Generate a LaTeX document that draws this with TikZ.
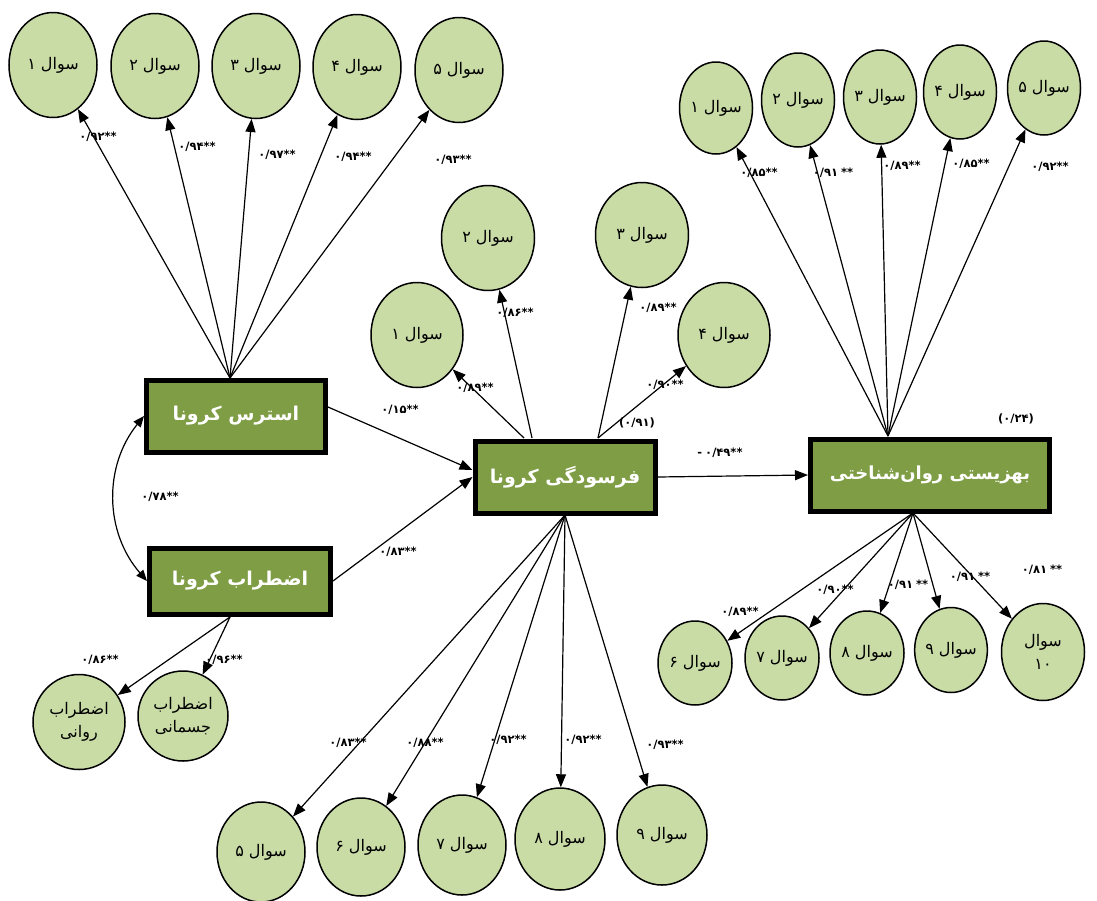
\documentclass[tikz,border=0pt]{standalone}
\usepackage{fontspec}
\usetikzlibrary{shapes.geometric,arrows.meta}
\newfontfamily\arabicfont[Script=Arabic]{DejaVu Sans}
\newfontfamily\numfont{DejaVu Sans}
\TeXXeTstate=1
\definecolor{itemgreen}{HTML}{C9DCA6}
\definecolor{boxgreen}{HTML}{7E9D45}
\begin{document}
\begin{tikzpicture}[x=1pt,y=-1pt,
  item/.style={ellipse, draw, line width=1.5pt, fill=itemgreen, inner sep=0pt, align=center, font=\arabicfont\fontsize{16}{23}\selectfont},
  itembig/.style={item, minimum width=88, minimum height=105},
  itemsmall/.style={item, minimum width=73, minimum height=92},
  itemlow/.style={item, minimum width=74, minimum height=84},
  latent/.style={draw, line width=5pt, fill=boxgreen, text=white, inner sep=0pt, font=\arabicfont\bfseries\fontsize{19}{22}\selectfont},
  load/.style={inner sep=0pt, font=\numfont\bfseries\fontsize{11.5}{13}\selectfont},
  arr/.style={-{Triangle[length=13pt,width=10pt]}, line width=1.2pt},
  arrboth/.style={{Triangle[length=11pt,width=9pt]}-{Triangle[length=11pt,width=9pt]}, line width=1.2pt}]
\useasboundingbox (0,0) rectangle (1097,900);
% latent variables
\node[latent, minimum width=179, minimum height=72] (st) at (236,416) {\beginR استرس کرونا\endR};
\node[latent, minimum width=181, minimum height=66] (ax) at (240,581) {\beginR اضطراب کرونا\endR};
\node[latent, minimum width=180, minimum height=72] (fb) at (565,477) {\beginR فرسودگی کرونا\endR};
\node[latent, minimum width=239, minimum height=72, font=\arabicfont\bfseries\fontsize{18}{22}\selectfont] (wb) at (930,475) {\beginR بهزیستی روان‌شناختی\endR};
% stress items
\node[itembig] (st1) at (53,65) {\beginR سوال ۱\endR};
\node[itembig] (st2) at (155,66) {\beginR سوال ۲\endR};
\node[itembig] (st3) at (256,66) {\beginR سوال ۳\endR};
\node[itembig] (st4) at (357,67) {\beginR سوال ۴\endR};
\node[itembig] (st5) at (459,70) {\beginR سوال ۵\endR};
\coordinate (st0) at (230,378);
\draw[arr](st0) -- (st1);
\draw[arr](st0) -- (st2);
\draw[arr](st0) -- (st3);
\draw[arr](st0) -- (st4);
\draw[arr](st0) -- (st5);
\node[load] (l1) at (98,137) {۰/۹۲**};
\node[load] (l2) at (197,147) {۰/۹۴**};
\node[load] (l3) at (277,155) {۰/۹۷**};
\node[load] (l4) at (353,157) {۰/۹۴**};
\node[load] (l5) at (453,160) {۰/۹۳**};
% anxiety items
\node[item, minimum width=92, minimum height=95] (ax1) at (79,722) {\beginR اضطراب\endR\\\beginR روانی\endR};
\node[item, minimum width=90, minimum height=90] (ax2) at (183,716) {\beginR اضطراب\endR\\\beginR جسمانی\endR};
\coordinate (ax0) at (230,617);
\draw[arr](ax0) -- (ax1);
\draw[arr](ax0) -- (ax2);
\node[load] (l6) at (100,660) {۰/۸۶**};
\node[load] (l7) at (224,660) {۰/۹۶**};
% burnout items
\node[itembig, minimum width=92] (fb1) at (417,335) {\beginR سوال ۱\endR};
\node[itembig, minimum width=93] (fb2) at (488,238) {\beginR سوال ۲\endR};
\node[itembig, minimum width=93] (fb3) at (642,235) {\beginR سوال ۳\endR};
\node[itembig, minimum width=92] (fb4) at (724,335) {\beginR سوال ۴\endR};
\node[itembig, minimum height=100] (fb5) at (261,852) {\beginR سوال ۵\endR};
\node[itembig, minimum height=98] (fb6) at (361,847) {\beginR سوال ۶\endR};
\node[itembig, minimum height=100] (fb7) at (462,845) {\beginR سوال ۷\endR};
\node[itembig, minimum width=90, minimum height=102] (fb8) at (560,839) {\beginR سوال ۸\endR};
\node[itembig, minimum width=90, minimum height=100] (fb9) at (662,835) {\beginR سوال ۹\endR};
\coordinate (fbt1) at (524,438);
\coordinate (fbt2) at (532,438);
\coordinate (fbt3) at (598,438);
\coordinate (fbb) at (565,515);
\draw[arr](fbt1) -- (fb1);
\draw[arr](fbt2) -- (fb2);
\draw[arr](fbt3) -- (fb3);
\draw[arr](fbt3) -- (fb4);
\draw[arr](fbb) -- (fb5);
\draw[arr](fbb) -- (fb6);
\draw[arr](fbb) -- (fb7);
\draw[arr](fbb) -- (fb8);
\draw[arr](fbb) -- (fb9);
\node[load] (l8) at (475,388) {۰/۸۹**};
\node[load] (l9) at (515,313) {۰/۸۶**};
\node[load] (l10) at (658,308) {۰/۸۹**};
\node[load] (l11) at (665,385) {۰/۹۰**};
\node[load] (r1) at (637,423) {(۰/۹۱)};
\node[load] (l12) at (348,743) {۰/۸۳**};
\node[load] (l13) at (425,743) {۰/۸۸**};
\node[load] (l14) at (508,740) {۰/۹۲**};
\node[load] (l15) at (583,740) {۰/۹۲**};
\node[load] (l16) at (665,745) {۰/۹۳**};
% wellbeing items
\node[itemsmall] (wb1) at (716,108) {\beginR سوال ۱\endR};
\node[itemsmall, minimum height=94] (wb2) at (798,100) {\beginR سوال ۲\endR};
\node[itemsmall, minimum height=94] (wb3) at (880,97) {\beginR سوال ۳\endR};
\node[itemsmall, minimum height=94] (wb4) at (960,92) {\beginR سوال ۴\endR};
\node[itemsmall, minimum height=94] (wb5) at (1044,88) {\beginR سوال ۵\endR};
\node[itemlow] (wb6) at (695,663) {\beginR سوال ۶\endR};
\node[itemlow] (wb7) at (782,658) {\beginR سوال ۷\endR};
\node[itemlow] (wb8) at (867,653) {\beginR سوال ۸\endR};
\node[itemlow, minimum width=72, minimum height=85] (wb9) at (951,650) {\beginR سوال ۹\endR};
\node[itemlow, minimum width=83, minimum height=97] (wb10) at (1043,652) {\beginR سوال\endR\\{\numfont ۱۰}};
\coordinate (wbt) at (888,436);
\coordinate (wbb) at (913,513);
\draw[arr](wbt) -- (wb1);
\draw[arr](wbt) -- (wb2);
\draw[arr](wbt) -- (wb3);
\draw[arr](wbt) -- (wb4);
\draw[arr](wbt) -- (wb5);
\draw[arr](wbb) -- (wb6);
\draw[arr](wbb) -- (wb7);
\draw[arr](wbb) -- (wb8);
\draw[arr](wbb) -- (wb9);
\draw[arr](wbb) -- (wb10);
\node[load] (l17) at (759,173) {۰/۸۵**};
\node[load] (l18) at (833,173) {۰/۹۱\kern3pt**};
\node[load] (l19) at (902,166) {۰/۸۹**};
\node[load] (l20) at (971,164) {۰/۸۵**};
\node[load] (l21) at (1050,167) {۰/۹۲**};
\node[load] (l22) at (740,612) {۰/۸۹**};
\node[load] (l23) at (835,590) {۰/۹۰**};
\node[load] (l24) at (908,585) {۰/۹۱\kern3pt**};
\node[load] (l25) at (970,577) {۰/۹۱\kern3pt**};
\node[load] (l26) at (1042,570) {۰/۸۱\kern3pt**};
\node[load] (r2) at (1016,419) {(۰/۲۴)};
% structural paths
\draw[arr]([yshift=9]st.east) -- ([yshift=7]fb.west);
\draw[arr](ax.east) -- (fb.west);
\draw[arr](fb.east) -- (wb.west);
\draw[arrboth](st.west) to[bend right=40] (ax.west);
\node[load] (l27) at (400,410) {۰/۱۵**};
\node[load] (l28) at (398,552) {۰/۸۳**};
\node[load] (l29) at (720,453) {-\kern3pt۰/۴۹**};
\node[load] (l30) at (160,497) {۰/۷۸**};
\end{tikzpicture}
\end{document}
